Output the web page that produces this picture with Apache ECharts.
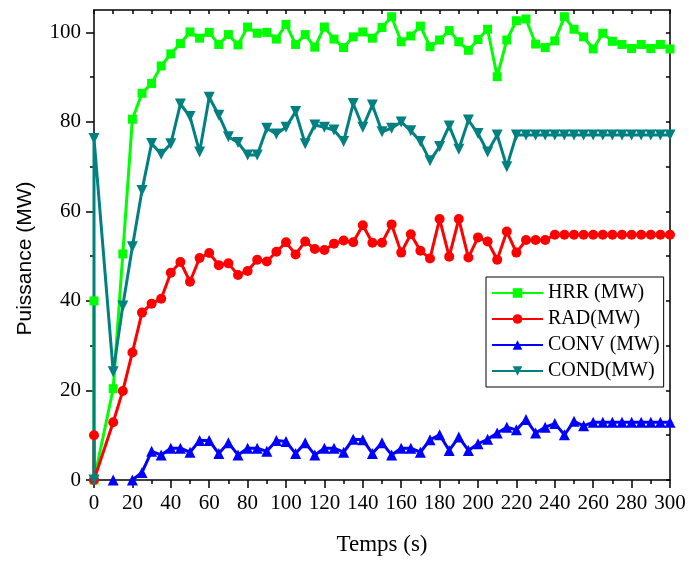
<!DOCTYPE html>
<html>
<head>
<meta charset="utf-8">
<script src="https://cdn.jsdelivr.net/npm/echarts@6/dist/echarts.min.js"></script>
<style>html,body{margin:0;padding:0;background:#fff;}#c{width:689px;height:561px;}</style>
</head>
<body>
<div id="c"></div>
<script>
var times = [0, 0, 10, 15, 20, 25, 30, 35, 40, 45, 50, 55, 60, 65, 70, 75, 80, 85, 90, 95, 100, 105, 110, 115, 120, 125, 130, 135, 140, 145, 150, 155, 160, 165, 170, 175, 180, 185, 190, 195, 200, 205, 210, 215, 220, 225, 230, 235, 240, 245, 250, 255, 260, 265, 270, 275, 280, 285, 290, 295, 300];
var hrr = [40, 0, 20.4, 50.5, 80.6, 86.4, 88.6, 92.5, 95.2, 97.5, 100.1, 98.7, 100, 97.3, 99.5, 97.2, 101.2, 99.8, 100, 98.5, 101.8, 97.3, 99.5, 96.7, 101.2, 98.5, 96.6, 99.0, 100.1, 98.7, 101.1, 103.5, 97.9, 99.2, 101.4, 96.8, 98.3, 100.4, 97.9, 96.0, 98.4, 100.7, 90.1, 98.3, 102.6, 103.0, 97.4, 96.6, 98.1, 103.5, 100.7, 99.0, 96.3, 99.8, 98.0, 97.3, 96.4, 97.3, 96.4, 97.3, 96.3];
var rad = [10, 0, 12.9, 19.9, 28.5, 37.4, 39.4, 40.5, 46.3, 48.7, 44.3, 49.6, 50.7, 48.0, 48.4, 45.8, 46.7, 49.2, 48.8, 51.0, 53.1, 50.4, 53.3, 51.6, 51.4, 52.8, 53.5, 53.1, 56.9, 53.0, 53.0, 57.1, 50.8, 54.9, 51.2, 49.5, 58.3, 49.9, 58.3, 49.7, 54.2, 53.3, 49.2, 55.5, 50.8, 53.6, 53.6, 53.6, 54.8, 54.8, 54.8, 54.8, 54.8, 54.8, 54.8, 54.8, 54.8, 54.8, 54.8, 54.8, 54.8];
var conv = [null, null, 0, null, 0, 1.7, 6.4, 5.6, 7.1, 7.1, 6.2, 8.8, 8.8, 5.9, 8.3, 5.6, 7.1, 7.1, 6.4, 8.8, 8.6, 5.9, 8.3, 5.6, 7.1, 7.1, 6.2, 9.1, 9.0, 5.9, 8.3, 5.6, 7.1, 7.1, 6.2, 9.0, 10.1, 6.6, 9.6, 6.6, 8.1, 9.1, 10.5, 11.8, 11.2, 13.5, 10.5, 11.8, 12.6, 10.1, 13.1, 12.1, 12.9, 12.9, 12.9, 12.9, 12.9, 12.9, 12.9, 12.9, 12.9];
var cond = [0, 76.3, 24.2, 38.9, 52.1, 64.7, 75.2, 72.8, 75.1, 84.0, 81.2, 73.3, 85.5, 81.5, 76.7, 75.4, 72.6, 72.6, 78.6, 77.3, 78.8, 82.3, 75.1, 79.3, 78.8, 78.2, 75.6, 84.1, 78.8, 83.8, 77.8, 78.6, 80.0, 78.0, 75.6, 71.3, 74.5, 79.1, 73.9, 80.4, 77.4, 73.3, 77.1, 70.0, 77.1, 77.1, 77.1, 77.1, 77.1, 77.1, 77.1, 77.1, 77.1, 77.1, 77.1, 77.1, 77.1, 77.1, 77.1, 77.1, 77.1];
var seriesNames = ['HRR (MW)', 'RAD(MW)', 'CONV (MW)', 'COND(MW)'];
var yTickLabels = [0, 20, 40, 60, 80, 100];

function pairs(vals) {
  return times.map(function (t, i) { return [t, vals[i]]; });
}

var chart = echarts.init(document.getElementById('c'), null, { renderer: 'canvas' });
var serif = '"Liberation Serif", "Times New Roman", serif';
var axisLineStyle = { color: '#000', width: 1.5 };

function mkSeries(name, vals, color, symbol, size) {
  return {
    name: name, type: 'line', data: pairs(vals),
    symbol: symbol, symbolSize: size, showSymbol: true,
    lineStyle: { color: color, width: 3 },
    itemStyle: { color: color },
    connectNulls: false, clip: false, animation: false
  };
}

chart.setOption({
  animation: false,
  backgroundColor: '#fff',
  grid: { left: 94, right: 19, top: 10, bottom: 80, containLabel: false },
  legend: {
    orient: 'vertical', left: 486, top: 277,
    padding: [6, 4, 6, 5], itemGap: 6, itemWidth: 51, itemHeight: 12,
    borderColor: '#000', borderWidth: 1, backgroundColor: '#fff',
    textStyle: { fontFamily: serif, fontSize: 20, color: '#000' },
    data: seriesNames
  },
  xAxis: [{
    type: 'value', min: 0, max: 300, interval: 20,
    name: 'Temps (s)', nameLocation: 'middle', nameGap: 53,
    nameTextStyle: { fontFamily: serif, fontSize: 23, color: '#000' },
    axisLine: { show: true, onZero: false, lineStyle: axisLineStyle },
    axisTick: { show: true, inside: false, length: 8, lineStyle: axisLineStyle },
    minorTick: { show: true, splitNumber: 2, length: 4, lineStyle: axisLineStyle },
    axisLabel: { fontFamily: serif, fontSize: 21, color: '#000', margin: 13 },
    splitLine: { show: false }
  }, {
    type: 'value', min: 0, max: 300, interval: 20, position: 'top',
    axisLine: { show: true, onZero: false, lineStyle: axisLineStyle },
    axisTick: { show: true, inside: true, length: 4, lineStyle: axisLineStyle },
    minorTick: { show: true, splitNumber: 2, length: 4, lineStyle: axisLineStyle },
    axisLabel: { show: false }, splitLine: { show: false }
  }],
  yAxis: [{
    type: 'value', min: 0, max: 105, interval: 20,
    name: 'Puissance (MW)', nameLocation: 'middle', nameGap: 58,
    nameTextStyle: { fontFamily: '"Liberation Sans", Arial, sans-serif', fontSize: 21, color: '#000', padding: [0, 27, 0, 0] },
    axisLine: { show: true, onZero: false, lineStyle: axisLineStyle },
    axisTick: { show: true, inside: false, length: 8, lineStyle: axisLineStyle, customValues: yTickLabels },
    minorTick: { show: true, splitNumber: 2, length: 4, lineStyle: axisLineStyle },
    axisLabel: { fontFamily: serif, fontSize: 21, color: '#000', margin: 13, customValues: yTickLabels },
    splitLine: { show: false }
  }, {
    type: 'value', min: 0, max: 105, interval: 20, position: 'right',
    axisLine: { show: true, onZero: false, lineStyle: axisLineStyle },
    axisTick: { show: true, inside: true, length: 4, lineStyle: axisLineStyle, customValues: yTickLabels },
    minorTick: { show: true, splitNumber: 2, length: 4, lineStyle: axisLineStyle },
    axisLabel: { show: false }, splitLine: { show: false }
  }],
  series: [
    mkSeries(seriesNames[0], hrr, '#00ff00', 'rect', 9),
    mkSeries(seriesNames[1], rad, '#ff0000', 'circle', 10),
    mkSeries(seriesNames[2], conv, '#0000ff', 'triangle', 11),
    Object.assign(mkSeries(seriesNames[3], cond, '#008080', 'triangle', 11), { symbolRotate: 180 })
  ]
});
</script>
</body>
</html>
